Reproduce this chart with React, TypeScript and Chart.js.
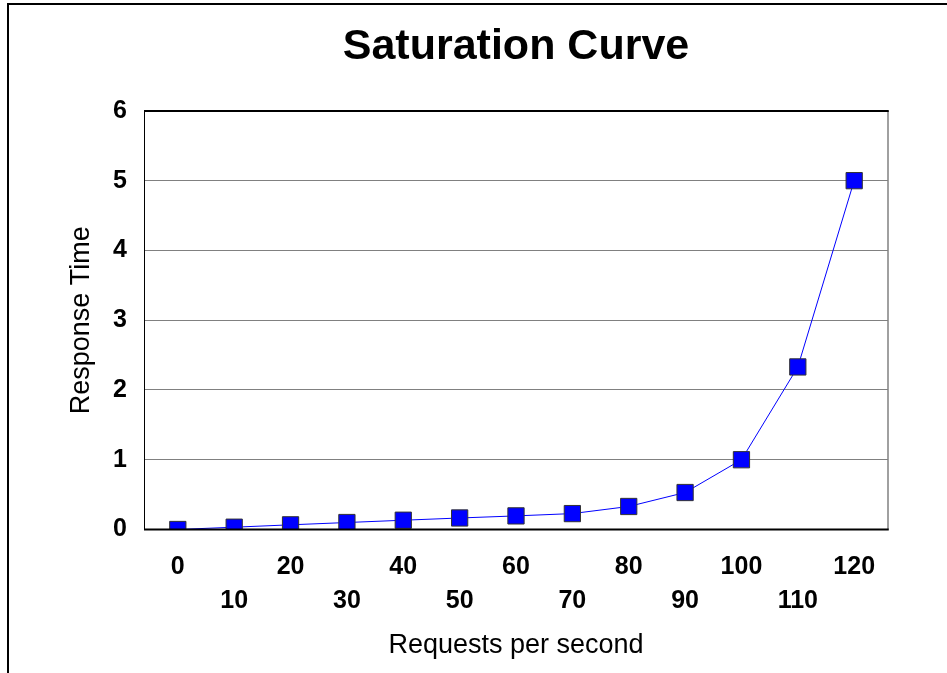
import React, { useEffect, useRef } from "react";
import { Chart, registerables } from "chart.js";

Chart.register(...registerables);

const requestsPerSecond = [0, 10, 20, 30, 40, 50, 60, 70, 80, 90, 100, 110, 120];
const responseTimes = [0, 0.033, 0.067, 0.1, 0.133, 0.165, 0.195, 0.228, 0.33, 0.53, 1.0, 2.33, 5.0];
const xTickValues = [0, 10, 20, 30, 40, 50, 60, 70, 80, 90, 100, 110, 120];
const yTickValues = [0, 1, 2, 3, 4, 5, 6];

const chartTitle = "Saturation Curve";
const xAxisTitle = "Requests per second";
const yAxisTitle = "Response Time";

const FONT = "'Liberation Sans', Arial, Helvetica, sans-serif";

const framePlugin = {
  id: "framePlugin",
  beforeDraw(chart: any) {
    const ctx = chart.ctx;
    ctx.save();
    ctx.fillStyle = "#ffffff";
    ctx.fillRect(0, 0, chart.width, chart.height);
    ctx.fillStyle = "#000000";
    ctx.fillRect(7, 3, 2, chart.height);
    ctx.fillRect(7, 3, chart.width, 2);
    ctx.restore();
  },
  afterDatasetsDraw(chart: any) {
    const { ctx, chartArea } = chart;
    const { left, right, top, bottom } = chartArea;
    ctx.save();
    ctx.strokeStyle = "#808080";
    ctx.lineWidth = 1.5;
    ctx.beginPath();
    ctx.moveTo(right, top);
    ctx.lineTo(right, bottom);
    ctx.stroke();
    ctx.strokeStyle = "#000000";
    ctx.lineWidth = 1;
    ctx.beginPath();
    ctx.moveTo(left + 0.5, top);
    ctx.lineTo(left + 0.5, bottom);
    ctx.stroke();
    ctx.lineWidth = 2;
    ctx.beginPath();
    ctx.moveTo(left, top);
    ctx.lineTo(right + 0.75, top);
    ctx.moveTo(left, bottom);
    ctx.lineTo(right + 0.75, bottom);
    ctx.stroke();
    ctx.restore();
  },
};

export default function App() {
  const canvasRef = useRef<HTMLCanvasElement | null>(null);

  useEffect(() => {
    if (!canvasRef.current) return;
    const data = requestsPerSecond.map((x, i) => ({ x, y: responseTimes[i] }));
    const chart = new Chart(canvasRef.current, {
      type: "line",
      data: {
        datasets: [
          {
            data,
            borderColor: "#0000FF",
            borderWidth: 1,
            backgroundColor: "#0000FF",
            pointStyle: "rect",
            pointRadius: 11.5,
            pointHoverRadius: 11.5,
            pointBackgroundColor: "#0000FF",
            pointBorderColor: "#333333",
            pointBorderWidth: 1,
            tension: 0,
            clip: 0,
          } as any,
        ],
      },
      options: {
        responsive: false,
        animation: false,
        events: [],
        layout: { padding: { left: 0, right: 59, top: 0, bottom: 0 } },
        plugins: {
          legend: { display: false },
          tooltip: { enabled: false },
          title: {
            display: true,
            text: chartTitle,
            fullSize: false,
            color: "#000000",
            font: { family: FONT, size: 43, weight: "bold", lineHeight: 1.2 },
            padding: { top: 21.5, bottom: 37.8 },
          },
        },
        scales: {
          x: {
            type: "linear",
            min: -6,
            max: 126,
            afterBuildTicks: (scale: any) => {
              scale.ticks = xTickValues.map((v) => ({ value: v }));
            },
            afterFit: (scale: any) => {
              scale.height = 143.5;
            },
            grid: { display: false, drawTicks: false },
            border: { display: false },
            ticks: {
              autoSkip: false,
              maxRotation: 0,
              minRotation: 0,
              padding: 20,
              color: "#000000",
              font: { family: FONT, size: 25, weight: "bold", lineHeight: 1.38 },
              callback: (value: any, index: number) =>
                index % 2 === 1 ? ["", String(value)] : String(value),
            },
            title: {
              display: true,
              text: xAxisTitle,
              color: "#000000",
              font: { family: FONT, size: 27, lineHeight: 1.2 },
              padding: { top: 0, bottom: 11 },
            },
          },
          y: {
            type: "linear",
            min: 0,
            max: 6,
            afterBuildTicks: (scale: any) => {
              scale.ticks = yTickValues.map((v) => ({ value: v }));
            },
            afterFit: (scale: any) => {
              scale.width = 144;
            },
            grid: { color: "#808080", lineWidth: 1, drawTicks: false },
            border: { display: false },
            ticks: {
              padding: 17,
              color: "#000000",
              font: { family: FONT, size: 25, weight: "bold" },
              callback: (value: any) => String(value),
            },
            title: {
              display: true,
              text: yAxisTitle,
              color: "#000000",
              font: { family: FONT, size: 27, lineHeight: 1.2 },
              padding: { top: 65, bottom: 0 },
            },
          },
        },
      } as any,
      plugins: [framePlugin],
    });
    return () => chart.destroy();
  }, []);

  return (
    <div style={{ position: "absolute", left: 0, top: 0, width: 947, height: 673 }}>
      <canvas ref={canvasRef} width={947} height={673} style={{ display: "block" }} />
    </div>
  );
}
